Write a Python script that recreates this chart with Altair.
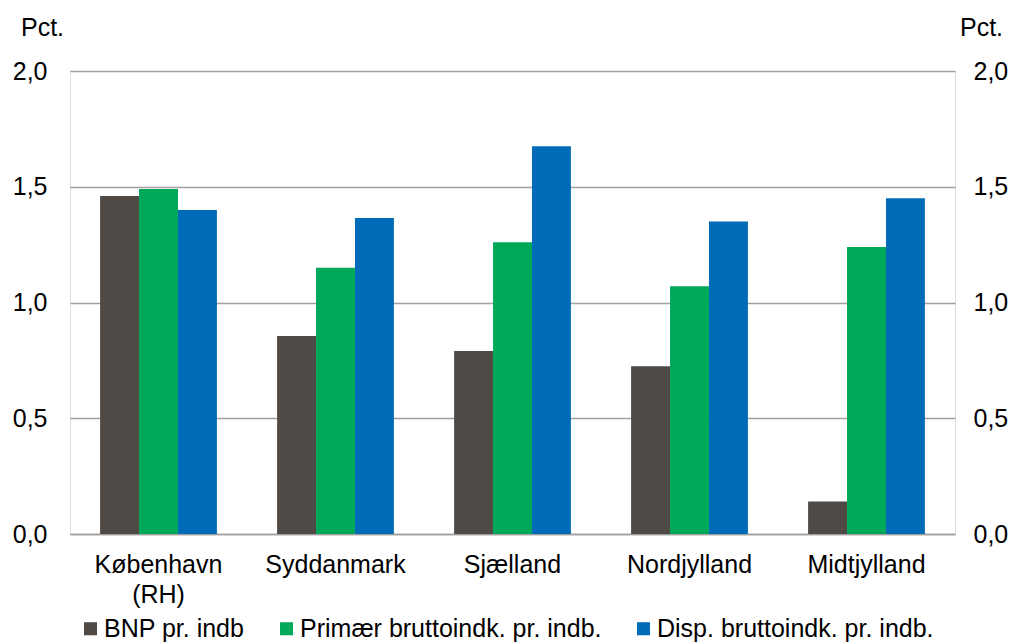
import altair as alt
import pandas as pd

regions = ["København|(RH)", "Syddanmark", "Sjælland", "Nordjylland", "Midtjylland"]
series = ["BNP pr. indb", "Primær bruttoindk. pr. indb.", "Disp. bruttoindk. pr. indb."]
bnp = [1.46, 0.855, 0.79, 0.725, 0.14]
primaer = [1.49, 1.15, 1.26, 1.07, 1.24]
disp = [1.40, 1.365, 1.675, 1.35, 1.45]
colors = ["#504A46", "#00A859", "#006CB7"]

rows = []
for i, r in enumerate(regions):
    for s, vals in zip(series, [bnp, primaer, disp]):
        rows.append({"region": r, "series": s, "value": vals[i]})
df = pd.DataFrame(rows)

FONT = "Liberation Sans"
FS = 25
fmt = "replace(format(datum.value, '.1f'), '.', ',')"

x = alt.X("region:N", sort=regions, title=None,
          scale=alt.Scale(paddingInner=0.34, paddingOuter=0.17),
          axis=alt.Axis(labelExpr="split(datum.label, '|')", labelAngle=0, ticks=False,
                        domain=True, domainColor="#A0A0A0", domainWidth=1.3,
                        labelFont=FONT, labelFontSize=FS, labelColor="#000000",
                        labelPadding=18, labelLineHeight=30, labelBaseline="top"))
xoff = alt.XOffset("series:N", sort=series)
color = alt.Color("series:N", sort=series,
                  scale=alt.Scale(domain=series, range=colors),
                  legend=alt.Legend(title=None, orient="none", direction="horizontal",
                                    legendX=8, legendY=545, symbolType="square",
                                    symbolSize=170, symbolStrokeWidth=0,
                                    labelFont=FONT, labelFontSize=FS, labelColor="#000000",
                                    labelOffset=1, columnPadding=29, labelLimit=500))

yscale = alt.Scale(domain=[0, 2])
left = alt.Chart(df).mark_bar().encode(
    x=x, xOffset=xoff, color=color,
    y=alt.Y("value:Q", scale=yscale, title="Pct.",
            axis=alt.Axis(values=[0, 0.5, 1.0, 1.5, 2.0], labelExpr=fmt, ticks=False,
                          domain=False, grid=True, gridColor="#A0A0A0", gridWidth=1.3,
                          labelFont=FONT, labelFontSize=FS, labelColor="#000000",
                          labelPadding=23, titleFont=FONT, titleFontSize=FS,
                          titleFontWeight="normal", titleColor="#000000", titleAngle=0,
                          titleAlign="center", titleBaseline="middle",
                          titleX=-28, titleY=-44))
)
right = alt.Chart(df).mark_bar(opacity=0).encode(
    x=x, xOffset=xoff,
    y=alt.Y("value:Q", scale=yscale, title="Pct.",
            axis=alt.Axis(orient="right", values=[0, 0.5, 1.0, 1.5, 2.0], labelExpr=fmt,
                          ticks=False, domain=False, grid=False,
                          labelFont=FONT, labelFontSize=FS, labelColor="#000000",
                          labelPadding=18, titleFont=FONT, titleFontSize=FS,
                          titleFontWeight="normal", titleColor="#000000", titleAngle=0,
                          titleAlign="center", titleBaseline="middle",
                          titleX=26, titleY=-44))
)

chart = alt.layer(left, right).resolve_scale(y="independent").properties(
    width=885, height=463,
    autosize=alt.AutoSizeParams(type="none"),
    padding={"left": 62, "top": 63, "right": 54, "bottom": 110},
).configure_view(stroke=None).configure(background="white")

chart.save("out.html", embed_options={"renderer": "svg", "actions": False})
